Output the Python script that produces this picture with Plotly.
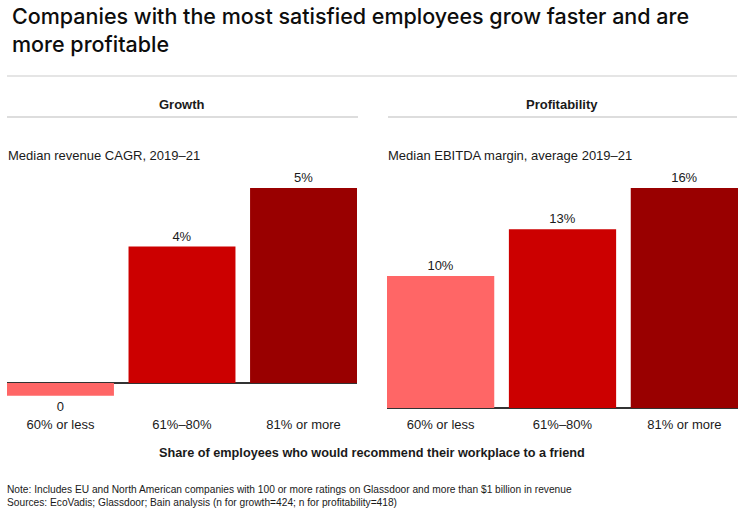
import plotly.graph_objects as go

W, H = 752, 515

categories = ["60% or less", "61%–80%", "81% or more"]
growth_values = [-0.33, 3.5, 5.0]
growth_labels = ["0", "4%", "5%"]
profit_values = [9.6, 13.0, 16.0]
profit_labels = ["10%", "13%", "16%"]
bar_colors = ["#FF6666", "#CC0000", "#990000"]

title_text = "Companies with the most satisfied employees grow faster and are<br>more profitable"
panel_titles = ["Growth", "Profitability"]
subtitles = ["Median revenue CAGR, 2019–21", "Median EBITDA margin, average 2019–21"]
x_title = "Share of employees who would recommend their workplace to a friend"
note_text = ("Note: Includes EU and North American companies with 100 or more ratings on Glassdoor and more than $1 billion in revenue"
             "<br>Sources: EcoVadis; Glassdoor; Bain analysis (n for growth=424; n for profitability=418)")


def X(px):
    return px / W


def Y(py):
    return 1 - py / H


FONT = "Liberation Sans, Arial, sans-serif"
TXT = "#1a1a1a"

fig = go.Figure()
fig.add_trace(go.Bar(x=categories, y=growth_values, text=growth_labels, textposition="outside",
                     marker=dict(color=bar_colors, line=dict(width=0)), cliponaxis=False,
                     textfont=dict(family=FONT, size=13, color=TXT), xaxis="x", yaxis="y",
                     hoverinfo="skip"))
fig.add_trace(go.Bar(x=categories, y=profit_values, text=profit_labels, textposition="outside",
                     marker=dict(color=bar_colors, line=dict(width=0)), cliponaxis=False,
                     textfont=dict(family=FONT, size=13, color=TXT), xaxis="x2", yaxis="y2",
                     hoverinfo="skip"))

top_px, bot_px = 175, 415
# left panel: baseline at 383px, 39 px per unit
l_base, l_scale = 383, 39.0
r_base, r_scale = 408, 13.75
yrange_l = [-(bot_px - l_base) / l_scale, (l_base - top_px) / l_scale]
yrange_r = [-(bot_px - r_base) / r_scale, (r_base - top_px) / r_scale]

xaxis_common = dict(range=[-0.44, 2.44], showgrid=False, zeroline=False, showline=False, ticks="",
                    tickfont=dict(family=FONT, size=13, color=TXT), fixedrange=True)
yaxis_common = dict(showgrid=False, showticklabels=False, zeroline=True, zerolinecolor="#333333",
                    zerolinewidth=2, showline=False, ticks="", fixedrange=True, layer="above traces")

fig.update_layout(
    width=W, height=H,
    margin=dict(l=0, r=0, t=0, b=0),
    paper_bgcolor="white", plot_bgcolor="white",
    showlegend=False,
    bargap=0.12,
    uniformtext=dict(mode=False),
    xaxis=dict(domain=[X(7), X(357)], anchor="y", **xaxis_common),
    xaxis2=dict(domain=[X(387), X(738)], anchor="y2", **xaxis_common),
    yaxis=dict(domain=[Y(bot_px), Y(top_px)], anchor="x", range=yrange_l, **yaxis_common),
    yaxis2=dict(domain=[Y(bot_px), Y(top_px)], anchor="x2", range=yrange_r, **yaxis_common),
)

annotations = [
    dict(text=title_text, x=X(10), y=Y(30), xanchor="left", yanchor="middle", align="left",
         font=dict(family="Inter, Roboto, sans-serif", size=21.5, color="#0d0d0d", weight=500)),
    dict(text="<b>%s</b>" % panel_titles[0], x=X(182), y=Y(104), xanchor="center", yanchor="middle",
         font=dict(family=FONT, size=13, color=TXT)),
    dict(text="<b>%s</b>" % panel_titles[1], x=X(562), y=Y(104), xanchor="center", yanchor="middle",
         font=dict(family=FONT, size=13, color=TXT)),
    dict(text=subtitles[0], x=X(6), y=Y(155), xanchor="left", yanchor="middle",
         font=dict(family=FONT, size=13, color=TXT)),
    dict(text=subtitles[1], x=X(386), y=Y(155), xanchor="left", yanchor="middle",
         font=dict(family=FONT, size=13, color=TXT)),
    dict(text="<b>%s</b>" % x_title, x=X(372), y=Y(453), xanchor="center", yanchor="middle",
         font=dict(family=FONT, size=12.7, color=TXT)),
    dict(text=note_text, x=X(5), y=Y(496), xanchor="left", yanchor="middle", align="left",
         font=dict(family=FONT, size=10.2, color=TXT)),
]
for a in annotations:
    a.update(xref="paper", yref="paper", showarrow=False)
fig.update_layout(annotations=annotations)

shapes = [
    dict(x0=X(7), x1=X(737), y0=Y(76), y1=Y(76), line=dict(color="#dddddd", width=1.5)),
    dict(x0=X(7), x1=X(358), y0=Y(117), y1=Y(117), line=dict(color="#dddddd", width=2)),
    dict(x0=X(388), x1=X(737), y0=Y(117), y1=Y(117), line=dict(color="#dddddd", width=2)),
]
for s in shapes:
    s.update(type="line", xref="paper", yref="paper")
fig.update_layout(shapes=shapes)

fig.write_html("out.html")
